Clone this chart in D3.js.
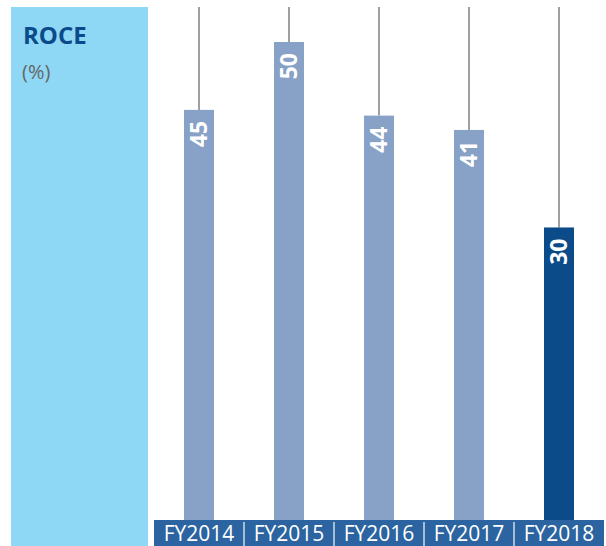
<!DOCTYPE html>
<html><head><meta charset="utf-8">
<script src="https://cdn.jsdelivr.net/npm/d3@7/dist/d3.min.js"></script>
<style>html,body{margin:0;padding:0;background:#fff;}svg{display:block;font-family:"Open Sans",sans-serif;}</style>
</head><body>
<script>
const categories = ["FY2014","FY2015","FY2016","FY2017","FY2018"];
const labels = [45, 50, 44, 41, 30];
// bar lengths as drawn in the reference (not strictly proportional to labels)
const plotted = [42.9, 50, 42.3, 40.8, 30.6];
const highlight = ["FY2018"];
const title = "ROCE";
const unit = "(%)";

const W = 606, H = 546;
const svg = d3.select("body").append("svg").attr("width", W).attr("height", H);

// left panel
svg.append("rect").attr("x", 11).attr("y", 7).attr("width", 137).attr("height", H - 7).attr("fill", "#8ed8f6");
svg.append("text").attr("x", 23).attr("y", 44).attr("font-size", 24).attr("font-weight", 700)
  .attr("fill", "#0b4b8a").text(title);
svg.append("text").attr("x", 22).attr("y", 79).attr("font-size", 20).attr("fill", "#666").text(unit);

const x = d3.scaleBand().domain(categories).range([154, 604]).paddingInner(0).paddingOuter(0);
const y = d3.scaleLinear().domain([0, 50]).range([520, 42]);
const barW = 30;

// category band
svg.append("rect").attr("x", 154).attr("y", 520).attr("width", 450).attr("height", 26).attr("fill", "#2b64a0");
svg.selectAll(".sep").data(categories.slice(1)).enter().append("line")
  .attr("x1", d => x(d)).attr("x2", d => x(d)).attr("y1", 522).attr("y2", 546)
  .attr("stroke", "#cfdcea").attr("stroke-width", 1.5);
svg.selectAll(".cat").data(categories).enter().append("text")
  .attr("x", d => x(d) + x.bandwidth() / 2).attr("y", 541).attr("text-anchor", "middle")
  .attr("font-size", 21).attr("fill", "#fff").text(d => d);

// grey stems
svg.selectAll(".stem").data(categories).enter().append("line")
  .attr("x1", d => x(d) + x.bandwidth() / 2).attr("x2", d => x(d) + x.bandwidth() / 2)
  .attr("y1", 7).attr("y2", (d, i) => y(plotted[i]))
  .attr("stroke", "#a0a0a3").attr("stroke-width", 2);

// bars
svg.selectAll(".bar").data(categories).enter().append("rect")
  .attr("x", d => x(d) + x.bandwidth() / 2 - barW / 2).attr("width", barW)
  .attr("y", (d, i) => y(plotted[i])).attr("height", (d, i) => y(0) - y(plotted[i]))
  .attr("fill", d => highlight.includes(d) ? "#0b4b8a" : "#88a1c6");

// value labels
svg.selectAll(".val").data(categories).enter().append("text")
  .attr("transform", (d, i) => `translate(${x(d) + x.bandwidth() / 2},${y(plotted[i]) + 11}) rotate(-90)`)
  .attr("text-anchor", "end").attr("dy", "0.36em")
  .attr("font-size", 23).attr("font-weight", 700).attr("fill", "#fff")
  .text((d, i) => labels[i]);
</script>
</body></html>
